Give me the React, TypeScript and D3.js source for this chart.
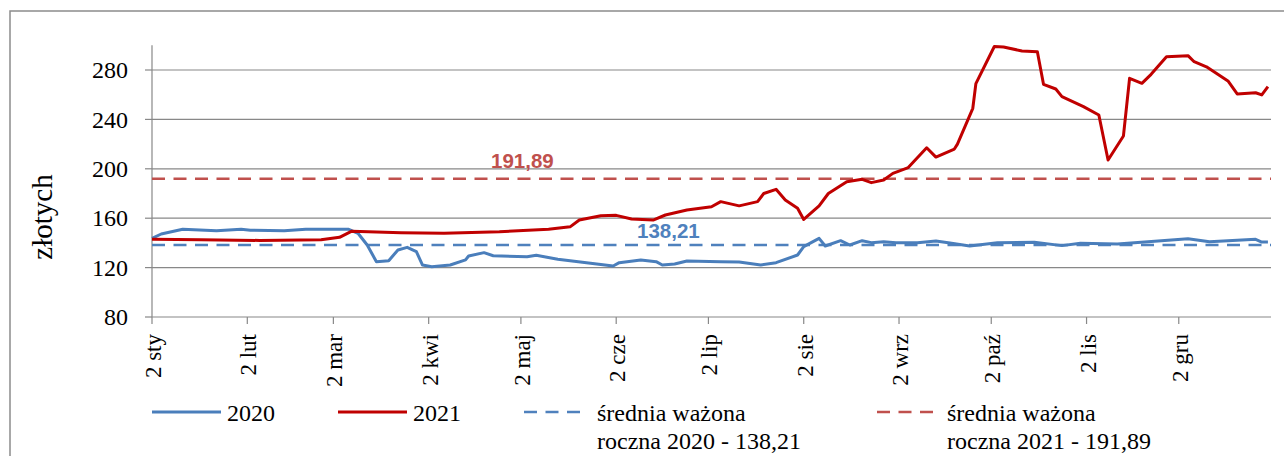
import * as d3 from 'd3';
import React from 'react';

// daily prices, plotted on a common Jan–Dec axis
const dates2021 = [
  '01-02', '01-18', '02-06', '02-26', '03-04', '03-08', '03-24', '04-07', '04-25', '05-11',
  '05-18', '05-21', '05-28', '06-02', '06-07', '06-14', '06-18', '06-25', '07-03', '07-06',
  '07-12', '07-18', '07-20', '07-24', '07-27', '07-31', '08-02', '08-07', '08-10', '08-16',
  '08-21', '08-24', '08-28', '08-31', '09-05', '09-11', '09-14', '09-20', '09-21', '09-26',
  '09-27', '10-03', '10-06', '10-12', '10-17', '10-19', '10-23', '10-25', '11-01', '11-06',
  '11-09', '11-14', '11-16', '11-20', '11-23', '11-28', '12-05', '12-07', '12-11', '12-18',
  '12-21', '12-27', '12-29', '12-31',
];
const values2021 = [
  143, 142.5, 142, 142.5, 144.5, 149.5, 148.3, 147.8, 149, 151,
  153, 158.5, 162, 162.3, 159.4, 158.5, 162.6, 166.6, 169.3, 173.4,
  170, 173.4, 180, 183.4, 174.7, 168, 159, 170, 180, 189.6,
  191.5, 188.8, 191, 196.3, 201, 217, 209.5, 216, 220, 249,
  269, 299, 298.6, 295.4, 294.8, 268.4, 264.6, 258.4, 250.3, 243.6,
  207.1, 226.6, 273.3, 269.2, 276.5, 290.8, 291.6, 286.7, 282.6, 271.1,
  260.6, 261.6, 259.8, 266.5,
];

const dates2020 = [
  '01-02', '01-05', '01-12', '01-23', '01-31', '02-03', '02-14', '02-21', '03-07', '03-10',
  '03-13', '03-16', '03-20', '03-23', '03-26', '03-29', '03-31', '04-03', '04-09', '04-14',
  '04-15', '04-20', '04-23', '05-04', '05-07', '05-14', '05-22', '06-01', '06-03', '06-10',
  '06-15', '06-17', '06-21', '06-25', '07-06', '07-12', '07-19', '07-24', '07-31', '08-02',
  '08-07', '08-09', '08-14', '08-17', '08-21', '08-24', '08-28', '09-01', '09-08', '09-14',
  '09-18', '09-25', '10-04', '10-16', '10-25', '10-31', '11-12', '11-22', '12-05', '12-12',
  '12-27', '12-29', '12-31',
];
const values2020 = [
  143.7, 147.2, 151, 149.9, 151, 150.2, 149.9, 151, 151, 147.8,
  138.3, 124.8, 125.6, 134.3, 136.4, 132.9, 122.1, 120.7, 122.1, 126.2,
  129.4, 132.1, 129.6, 128.8, 130, 126.7, 124.3, 121.3, 124, 126.2,
  124.8, 122.1, 122.9, 125.3, 124.8, 124.5, 122.1, 124, 130.2, 137,
  143.7, 137.5, 141.8, 138.3, 141.8, 140.2, 141, 140.2, 140.2, 141.5,
  140.2, 137.5, 140.2, 140.5, 137.8, 139.7, 139.1, 141, 143.4, 141,
  142.9, 140.7, 140.7,
];

const avg2020 = 138.21;
const avg2021 = 191.89;

const tickDates = ['01-02', '02-02', '03-02', '04-02', '05-02', '06-02', '07-02', '08-02', '09-02', '10-02', '11-02', '12-02'];
const tickLabels = ['2 sty', '2 lut', '2 mar', '2 kwi', '2 maj', '2 cze', '2 lip', '2 sie', '2 wrz', '2 paź', '2 lis', '2 gru'];
const yTicks = [80, 120, 160, 200, 240, 280];

const W = 1284;
const H = 456;
const SERIF = '"Liberation Serif", "Times New Roman", serif';
const SANS = '"Liberation Sans", Arial, sans-serif';

const parse = d3.timeParse('%Y-%m-%d');
const toDate = (s: string) => parse('2021-' + s) as Date;

export default function App() {
  const x = d3
    .scaleTime()
    .domain([toDate('01-02'), parse('2022-01-01') as Date])
    .range([152, 1271]);
  const y = d3.scaleLinear().domain([80, 300]).range([317, 45.3]);

  const line = d3
    .line<[Date, number]>()
    .x((d) => x(d[0]))
    .y((d) => y(d[1]));

  const s2020: [Date, number][] = dates2020.map((d, i) => [toDate(d), values2020[i]]);
  const s2021: [Date, number][] = dates2021.map((d, i) => [toDate(d), values2021[i]]);

  const [x0, x1] = x.range();
  const grid = '#888888';

  return (
    <svg width={W} height={H} style={{ position: 'absolute', left: 0, top: 0, background: '#fff' }}>
      <rect x={10} y={11} width={W} height={H} fill="#fff" stroke="#8c8c8c" strokeWidth={1.5} />

      {/* gridlines */}
      {yTicks.slice(1).map((t) => (
        <line key={t} x1={x0} x2={x1} y1={y(t)} y2={y(t)} stroke={grid} strokeWidth={1.2} />
      ))}

      {/* axes */}
      <line x1={x0} x2={x0} y1={y(300)} y2={y(80)} stroke={grid} strokeWidth={1.2} />
      <line x1={x0} x2={x1} y1={y(80)} y2={y(80)} stroke={grid} strokeWidth={1.2} />
      {yTicks.map((t) => (
        <g key={t}>
          <line x1={x0 - 7} x2={x0} y1={y(t)} y2={y(t)} stroke={grid} strokeWidth={1.2} />
          <text x={128} y={y(t)} dy="0.34em" textAnchor="end" fontFamily={SERIF} fontSize={24} fill="#000">
            {t}
          </text>
        </g>
      ))}
      {tickDates.map((d, i) => {
        const tx = x(toDate(d));
        return (
          <g key={d}>
            <line x1={tx} x2={tx} y1={y(80)} y2={y(80) + 7} stroke={grid} strokeWidth={1.2} />
            <text
              transform={`translate(${tx + 9},334) rotate(-90)`}
              textAnchor="end"
              fontFamily={SERIF}
              fontSize={23}
              fill="#000"
            >
              {tickLabels[i]}
            </text>
          </g>
        );
      })}

      <text
        transform="translate(52,217) rotate(-90)"
        textAnchor="middle"
        fontFamily={SERIF}
        fontSize={29}
        fill="#000"
      >
        złotych
      </text>

      {/* averages */}
      <line x1={x0} x2={x1} y1={y(avg2021)} y2={y(avg2021)} stroke="#c0504d" strokeWidth={2.5} strokeDasharray="13 8.5" />
      <line x1={x0} x2={x1} y1={y(avg2020)} y2={y(avg2020)} stroke="#4f81bd" strokeWidth={2.5} strokeDasharray="13 8.5" />

      {/* series */}
      <path d={line(s2020) ?? ''} fill="none" stroke="#4a7ebb" strokeWidth={3} strokeLinejoin="round" />
      <path d={line(s2021) ?? ''} fill="none" stroke="#c00000" strokeWidth={3} strokeLinejoin="round" />

      <text x={491} y={168} fontFamily={SANS} fontWeight="bold" fontSize={20.5} fill="#c0504d">
        191,89
      </text>
      <text x={637} y={238} fontFamily={SANS} fontWeight="bold" fontSize={20.5} fill="#4f81bd">
        138,21
      </text>

      {/* legend */}
      <g fontFamily={SERIF} fontSize={24} fill="#000">
        <line x1={152} x2={221} y1={412} y2={412} stroke="#4a7ebb" strokeWidth={3} />
        <text x={227} y={421}>2020</text>
        <line x1={338} x2={407} y1={412} y2={412} stroke="#c00000" strokeWidth={3} />
        <text x={413} y={421}>2021</text>
        <line x1={524} x2={586} y1={412} y2={412} stroke="#4f81bd" strokeWidth={2.5} strokeDasharray="13 8.5" />
        <text x={597} y={421}>średnia ważona</text>
        <text x={597} y={449}>roczna 2020 - 138,21</text>
        <line x1={877} x2={939} y1={412} y2={412} stroke="#c0504d" strokeWidth={2.5} strokeDasharray="13 8.5" />
        <text x={947} y={421}>średnia ważona</text>
        <text x={947} y={449}>roczna 2021 - 191,89</text>
      </g>
    </svg>
  );
}
